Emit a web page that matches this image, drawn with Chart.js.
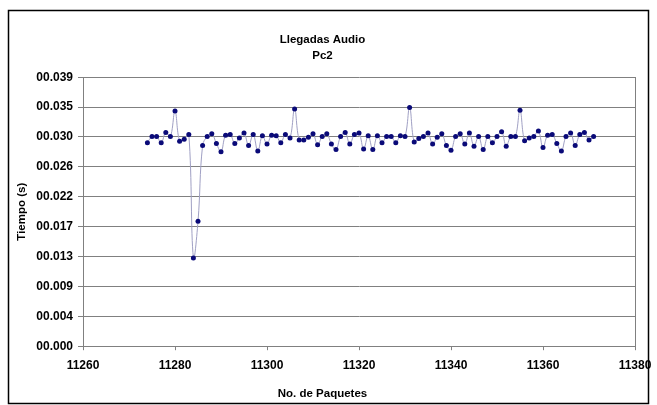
<!DOCTYPE html>
<html>
<head>
<meta charset="utf-8">
<script src="https://cdn.jsdelivr.net/npm/chart.js@4/dist/chart.umd.min.js"></script>
<style>
  html, body { margin: 0; padding: 0; background: #fff; }
  #wrap { width: 657px; height: 405px; }
</style>
</head>
<body>
<div id="wrap"><canvas id="arrivalsChart" width="657" height="405"></canvas></div>
<script>
const packets = [
  11274, 11275, 11276, 11277, 11278, 11279, 11280, 11281, 11282, 11283,
  11284, 11285, 11286, 11287, 11288, 11289, 11290, 11291, 11292, 11293,
  11294, 11295, 11296, 11297, 11298, 11299, 11300, 11301, 11302, 11303,
  11304, 11305, 11306, 11307, 11308, 11309, 11310, 11311, 11312, 11313,
  11314, 11315, 11316, 11317, 11318, 11319, 11320, 11321, 11322, 11323,
  11324, 11325, 11326, 11327, 11328, 11329, 11330, 11331, 11332, 11333,
  11334, 11335, 11336, 11337, 11338, 11339, 11340, 11341, 11342, 11343,
  11344, 11345, 11346, 11347, 11348, 11349, 11350, 11351, 11352, 11353,
  11354, 11355, 11356, 11357, 11358, 11359, 11360, 11361, 11362, 11363,
  11364, 11365, 11366, 11367, 11368, 11369, 11370, 11371
];

const arrivalTimes = [
  0.0295, 0.0304, 0.0304, 0.0295, 0.0310, 0.0304, 0.0341, 0.0297, 0.0300, 0.0307,
  0.0128, 0.0181, 0.0291, 0.0304, 0.0308, 0.0294, 0.0282, 0.0306, 0.0307, 0.0294,
  0.0302, 0.0309, 0.0291, 0.0307, 0.0283, 0.0305, 0.0293, 0.0306, 0.0305, 0.0295,
  0.0307, 0.0302, 0.0344, 0.0299, 0.0299, 0.0303, 0.0308, 0.0292, 0.0304, 0.0308,
  0.0293, 0.0285, 0.0304, 0.0310, 0.0293, 0.0307, 0.0309, 0.0286, 0.0305, 0.0285,
  0.0305, 0.0295, 0.0304, 0.0304, 0.0295, 0.0305, 0.0304, 0.0346, 0.0296, 0.0301,
  0.0304, 0.0309, 0.0293, 0.0303, 0.0308, 0.0291, 0.0284, 0.0304, 0.0308, 0.0293,
  0.0309, 0.0290, 0.0304, 0.0285, 0.0304, 0.0295, 0.0304, 0.0311, 0.0290, 0.0304,
  0.0304, 0.0342, 0.0298, 0.0302, 0.0304, 0.0312, 0.0288, 0.0306, 0.0307, 0.0294,
  0.0283, 0.0304, 0.0309, 0.0291, 0.0307, 0.0310, 0.0299, 0.0304
];

const yTickLabels = ["00.000", "00.004", "00.009", "00.013", "00.017", "00.022", "00.026", "00.030", "00.035", "00.039"];
const yMax = 0.039;

const fontFamily = "'Liberation Sans', Arial, sans-serif";

// white page + black frame round the whole chart
const framePlugin = {
  id: "frame",
  beforeDraw(chart) {
    const c = chart.ctx;
    c.save();
    c.fillStyle = "#fff";
    c.fillRect(0, 0, chart.width, chart.height);
    c.strokeStyle = "#000";
    c.lineWidth = 1.5;
    c.strokeRect(8.5, 10.5, 640, 393);
    c.restore();
  },
};

const data = {
  datasets: [
    {
      label: "Llegadas",
      data: packets.map((p, i) => ({ x: p, y: arrivalTimes[i] })),
      showLine: true,
      tension: 0.4,
      borderColor: "#a0a0c4",
      borderWidth: 1,
      pointBackgroundColor: "#0a0a78",
      pointBorderColor: "#0a0a78",
      pointRadius: 2.5,
      pointBorderWidth: 0,
    },
  ],
};

const config = {
  type: "scatter",
  data: data,
  plugins: [framePlugin],
  options: {
    responsive: false,
    animation: false,
    layout: { padding: { left: 10, right: 22, top: 0, bottom: 0 } },
    plugins: {
      legend: { display: false },
      tooltip: { enabled: false },
      title: {
        display: true,
        text: ["Llegadas Audio", "Pc2"],
        color: "#000",
        font: { family: fontFamily, size: 11.5, weight: "bold", lineHeight: 1.4 },
        padding: { top: 32, bottom: 13 },
      },
      subtitle: {
        display: true,
        position: "bottom",
        text: "No. de Paquetes",
        color: "#000",
        font: { family: fontFamily, size: 11.5, weight: "bold", lineHeight: 1.2 },
        padding: { top: 12, bottom: 4 },
      },
    },
    scales: {
      x: {
        type: "linear",
        min: 11260,
        max: 11380,
        afterFit: (s) => {
          s.height = 29;
          s.paddingRight = 0;
        },
        ticks: {
          stepSize: 20,
          color: "#000",
          font: { family: fontFamily, size: 12, weight: "bold" },
          padding: 8,
          maxRotation: 0,
          callback: (value) => String(value),
        },
        grid: {
          drawOnChartArea: false,
          drawTicks: true,
          tickLength: 4,
          color: "#808080",
        },
        border: { color: "#808080", width: 1 },
      },
      y: {
        min: 0,
        max: yMax,
        afterFit: (s) => { s.width = 73; },
        afterBuildTicks: (s) => {
          s.ticks = yTickLabels.map((_, i) => ({ value: (yMax * i) / (yTickLabels.length - 1) }));
        },
        ticks: {
          color: "#000",
          font: { family: fontFamily, size: 12, weight: "bold" },
          padding: 5,
          callback: (value, index) => yTickLabels[index],
        },
        grid: {
          color: "#808080",
          tickLength: 5,
        },
        border: { color: "#808080", width: 1 },
        title: {
          display: true,
          text: "Tiempo (s)",
          color: "#000",
          font: { family: fontFamily, size: 11.5, weight: "bold", lineHeight: 1.2 },
          padding: { top: 5, bottom: 0 },
        },
      },
      y2: {
        position: "right",
        min: 0,
        max: yMax,
        afterFit: (s) => { s.width = 0; },
        ticks: { display: false },
        grid: { display: false },
        border: { color: "#808080", width: 1 },
      },
    },
  },
};

new Chart(document.getElementById("arrivalsChart").getContext("2d"), config);
</script>
</body>
</html>
